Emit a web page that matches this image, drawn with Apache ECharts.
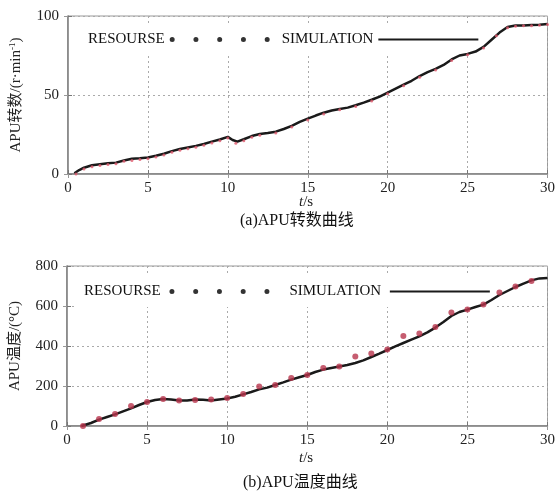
<!DOCTYPE html>
<html>
<head>
<meta charset="utf-8">
<script src="https://cdn.jsdelivr.net/npm/echarts@6/dist/echarts.min.js"></script>
<style>
  html, body { margin: 0; padding: 0; background: #fff; }
  #chart { width: 558px; height: 492px; }
</style>
</head>
<body>
<div id="chart"></div>
<script>
// (a) APU speed, r/min
const speedSimT = [0.4, 0.7, 1.0, 1.5, 2.0, 2.5, 3.0, 3.5, 4.0, 4.5, 5.0, 5.5, 6.0, 6.5, 7.0, 7.5, 8.0, 8.5, 9.0, 9.5, 10.0, 10.3, 10.6, 11.0, 11.5, 12.0, 12.5, 13.0, 13.5, 14.0, 14.5, 15.0, 15.5, 16.0, 16.5, 17.0, 17.5, 18.0, 18.5, 19.0, 19.5, 20.0, 20.5, 21.0, 21.5, 22.0, 22.5, 23.0, 23.5, 24.0, 24.5, 25.0, 25.5, 26.0, 26.5, 27.0, 27.5, 28.0, 28.5, 29.0, 29.5, 30.0];
const speedSim = [0.5, 2.5, 4, 5.5, 6.2, 6.8, 7.2, 8.5, 9.6, 10, 10.5, 11.5, 12.8, 14.5, 15.8, 16.8, 17.8, 19.0, 20.5, 21.8, 23.5, 21.5, 20.5, 22, 24, 25.3, 26, 26.8, 28.5, 30.5, 33, 35, 37, 38.8, 40.2, 41.2, 42, 43.5, 45.2, 47, 49, 51.5, 54, 56.5, 59, 62, 64.5, 66.5, 69, 72.5, 75, 76, 77.5, 80.5, 85, 89.5, 93, 94, 94, 94.3, 94.5, 95];
const speedResT = [0.5, 1.0, 1.5, 2.0, 2.5, 3.0, 3.5, 4.0, 4.5, 5.0, 5.5, 6.0, 6.5, 7.0, 7.5, 8.0, 8.5, 9.0, 9.5, 10.0, 10.5, 11.0, 11.5, 12.0, 13.0, 14.0, 15.0, 16.0, 17.0, 18.0, 19.0, 20.0, 21.0, 22.0, 23.0, 24.0, 25.0, 26.0, 26.8, 27.5, 28.0, 28.5, 29.0, 29.5, 30.0];
const speedRes = [0, 3.2, 4.6, 5.4, 6.0, 6.5, 8.0, 8.6, 9.2, 9.6, 10.8, 12.0, 13.8, 15.0, 16.0, 17.0, 18.2, 19.6, 21.0, 22.8, 19.5, 21.0, 23.2, 24.6, 26.0, 29.8, 34.2, 38.0, 40.6, 42.8, 46.2, 50.8, 55.8, 61.2, 65.8, 71.8, 75.5, 79.8, 87.5, 92.5, 93.5, 93.8, 93.8, 94.2, 94.6];

// (b) APU temperature, °C
const tempSimT = [0.9, 1.5, 2.0, 2.5, 3.0, 3.5, 4.0, 4.5, 5.0, 5.5, 6.0, 6.5, 7.0, 7.5, 8.0, 8.5, 9.0, 9.5, 10.0, 10.5, 11.0, 11.5, 12.0, 12.5, 13.0, 13.5, 14.0, 14.5, 15.0, 15.5, 16.0, 16.5, 17.0, 17.5, 18.0, 18.5, 19.0, 19.5, 20.0, 20.5, 21.0, 21.5, 22.0, 22.5, 23.0, 23.5, 24.0, 24.5, 25.0, 25.5, 26.0, 26.5, 27.0, 27.5, 28.0, 28.5, 29.0, 29.5, 30.0];
const tempSim = [0, 15, 32, 45, 58, 73, 88, 105, 120, 130, 135, 132, 128, 128, 132, 131, 128, 133, 138, 146, 158, 170, 183, 192, 205, 218, 232, 244, 255, 270, 282, 290, 298, 305, 315, 328, 345, 362, 380, 398, 415, 432, 448, 468, 492, 520, 550, 570, 582, 595, 607, 630, 655, 675, 695, 712, 728, 738, 740];
const tempResT = [1, 2, 3, 4, 5, 6, 7, 8, 9, 10, 11, 12, 13, 14, 15, 16, 17, 18, 19, 20, 21, 22, 23, 24, 25, 26, 27, 28, 29];
const tempRes = [0, 35, 60, 100, 120, 135, 128, 130, 133, 140, 160, 197, 205, 240, 255, 290, 298, 347, 363, 382, 450, 462, 495, 568, 582, 607, 668, 698, 725];

const xTicks = [0, 30, 5];
const serif = '"Liberation Serif", "Times New Roman", "Noto Sans CJK SC", serif';
const dotsIcon = 'path://M0,2.5a2.5,2.5 0 1,0 5,0a2.5,2.5 0 1,0 -5,0z M23.75,2.5a2.5,2.5 0 1,0 5,0a2.5,2.5 0 1,0 -5,0z M47.5,2.5a2.5,2.5 0 1,0 5,0a2.5,2.5 0 1,0 -5,0z M71.25,2.5a2.5,2.5 0 1,0 5,0a2.5,2.5 0 1,0 -5,0z M95,2.5a2.5,2.5 0 1,0 5,0a2.5,2.5 0 1,0 -5,0z';

const pairs = (xs, ys) => xs.map((x, i) => [x, ys[i]]);

const gridLine = { show: true, lineStyle: { color: '#aaa', type: [2, 3], width: 1 } };
const axisLbl = { color: '#222', fontFamily: serif, fontSize: 15 };

const xAxisFor = (gi) => [
  {
    type: 'value', gridIndex: gi, min: xTicks[0], max: xTicks[1], interval: xTicks[2],
    axisLine: { show: true, lineStyle: { color: '#777', width: 1.5 } },
    axisTick: { show: true, inside: true, length: 4, lineStyle: { color: '#777' } },
    axisLabel: Object.assign({ margin: 7 }, axisLbl),
    splitLine: gridLine,
  },
  {
    type: 'value', gridIndex: gi, position: 'top', min: xTicks[0], max: xTicks[1], interval: xTicks[2],
    axisLine: { show: true, lineStyle: { color: '#999' } },
    axisTick: { show: true, inside: true, length: 4, lineStyle: { color: '#999' } },
    axisLabel: { show: false }, splitLine: { show: false },
  },
];

const yAxisFor = (gi, max, interval, name, rich) => [
  {
    type: 'value', gridIndex: gi, min: 0, max: max, interval: interval,
    name: name, nameLocation: 'middle', nameGap: 44,
    nameTextStyle: { color: '#222', fontFamily: serif, fontSize: 15, rich: rich },
    axisLine: { show: true, lineStyle: { color: '#777', width: 1.5 } },
    axisTick: { show: true, inside: true, length: 4, lineStyle: { color: '#777' } },
    axisLabel: Object.assign({ margin: 9 }, axisLbl),
    splitLine: gridLine,
  },
  {
    type: 'value', gridIndex: gi, position: 'right', min: 0, max: max, interval: interval,
    axisLine: { show: true, lineStyle: { color: '#999' } },
    axisTick: { show: true, inside: true, length: 4, lineStyle: { color: '#999' } },
    axisLabel: { show: false }, splitLine: { show: false },
  },
];

const legendFor = (gi, left, top, gap) => ({
  gridIndex: gi, left: left, top: top, orient: 'horizontal', align: 'right',
  itemWidth: 100, itemHeight: 5, itemGap: gap,
  backgroundColor: '#fff', padding: [8, 4, 8, 10],
  textStyle: { color: '#111', fontFamily: serif, fontSize: 15 },
});

const hideSymbol = { opacity: 0, borderWidth: 0 };
const tsRich = { i: { fontStyle: 'italic', font: 'italic 15px ' + serif, fill: '#222' } };

const option = {
  animation: false,
  backgroundColor: '#fff',
  grid: [
    { left: 65, top: 16, width: 490, height: 158, show: true, borderColor: '#999', borderWidth: 1 },
    { left: 65, top: 266, width: 490, height: 160, show: true, borderColor: '#999', borderWidth: 1 },
  ],
  legend: [
    Object.assign(legendFor(0, 78, 24, 12), { data: [{ name: 'RESOURSE', icon: dotsIcon, itemStyle: { color: '#000' } }, { name: 'SIMULATION', itemStyle: hideSymbol }] }),
    Object.assign(legendFor(1, 74, 276, 20), { data: [{ name: 'RESOURSE ', icon: dotsIcon, itemStyle: { color: '#000' } }, { name: 'SIMULATION ', itemStyle: hideSymbol }] }),
  ],
  xAxis: xAxisFor(0).concat(xAxisFor(1)),
  yAxis: yAxisFor(0, 100, 50, 'APU转数/(r·min{sup|-1})', { sup: { fontSize: 9, fontFamily: serif, color: '#222', padding: [0, 0, 7, 0] } })
    .concat(yAxisFor(1, 800, 200, 'APU温度/(°C)', {})),
  series: [
    {
      name: 'SIMULATION', type: 'line', xAxisIndex: 0, yAxisIndex: 0,
      data: pairs(speedSimT, speedSim), symbol: 'none', smooth: false,
      lineStyle: { color: '#1a1a1a', width: 2.5 }, itemStyle: { color: '#1a1a1a' }, z: 5,
    },
    {
      name: 'RESOURSE', type: 'scatter', xAxisIndex: 0, yAxisIndex: 0,
      data: pairs(speedResT, speedRes), symbolSize: 3,
      itemStyle: { color: '#e05a6e' }, z: 6,
    },
    {
      name: 'SIMULATION ', type: 'line', xAxisIndex: 2, yAxisIndex: 2,
      data: pairs(tempSimT, tempSim), symbol: 'none', smooth: false,
      lineStyle: { color: '#1a1a1a', width: 2.5 }, itemStyle: { color: '#1a1a1a' }, z: 5,
    },
    {
      name: 'RESOURSE ', type: 'scatter', xAxisIndex: 2, yAxisIndex: 2,
      data: pairs(tempResT, tempRes), symbolSize: 6,
      itemStyle: { color: '#b8344c' }, z: 6,
    },
  ],
  graphic: [
    { type: 'text', left: 299, top: 195, style: { text: '{i|t}/s', rich: tsRich, font: '15px ' + serif, fill: '#222' } },
    { type: 'text', left: 299, top: 451, style: { text: '{i|t}/s', rich: tsRich, font: '15px ' + serif, fill: '#222' } },
    { type: 'text', left: 240, top: 213, style: { text: '(a)APU转数曲线', font: '16px ' + serif, fill: '#111' } },
    { type: 'text', left: 243, top: 475, style: { text: '(b)APU温度曲线', font: '16px ' + serif, fill: '#111' } },
  ],
};

const myChart = echarts.init(document.getElementById('chart'));
myChart.setOption(option);
</script>
</body>
</html>
